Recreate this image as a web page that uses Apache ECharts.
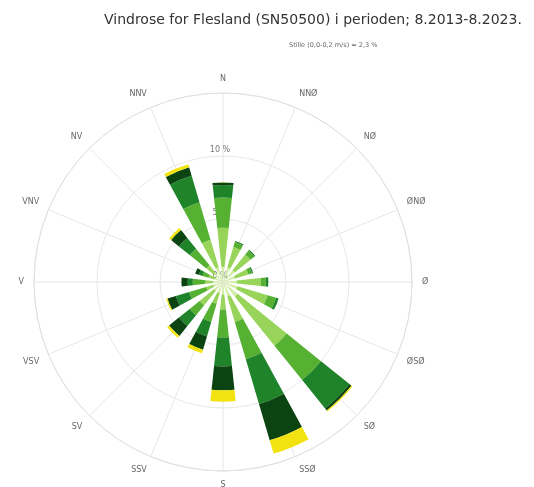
<!DOCTYPE html>
<html><head><meta charset="utf-8">
<script src="https://cdn.jsdelivr.net/npm/echarts@6/dist/echarts.min.js"></script>
<style>html,body{margin:0;padding:0;background:#fff}#c{width:534px;height:487px}</style>
</head><body><div id="c"></div>
<script>
// Directions, clockwise from north
const directions = ['N','NNØ','NØ','ØNØ','Ø','ØSØ','SØ','SSØ','S','SSV','SV','VSV','V','VNV','NV','NNV'];
// Wind speed classes (inner to outer)
const classNames = ['0,3-1,5 m/s','1,6-3,3 m/s','3,4-5,4 m/s','5,5-7,9 m/s','8,0-10,7 m/s','> 10,8 m/s'];
const classColors = ['#d2eda6','#98d35a','#56b132','#1f832a','#0b4411','#f2e20f'];
// Frequency (%) per direction for each class
const cls1 = [1.2,1.2,1.2,1.0,1.1,1.2,1.5,1.2,1.0,0.9,0.9,0.8,0.8,0.7,0.9,1.2];
const cls2 = [3.1,1.7,1.6,1.1,1.9,2.5,5.0,2.1,1.2,0.9,1.5,0.6,0.6,0.5,0.8,2.3];
const cls3 = [2.4,0.4,0.4,0.3,0.4,0.7,3.5,3.1,2.2,1.5,1.0,1.4,1.0,0.5,1.7,3.1];
const cls4 = [1.0,0.1,0.1,0.1,0.2,0.2,2.9,3.7,2.3,1.2,1.1,1.1,0.4,0.3,1.1,2.2];
const cls5 = [0.2,0,0,0,0,0,0.2,3.0,1.9,1.1,1.0,0.7,0.5,0.3,0.8,0.7];
const cls6 = [0,0,0,0,0,0,0.1,1.1,0.9,0.3,0.2,0.1,0,0,0.2,0.25];
const radiusMax = 15;
const radiusStep = 5;
const titleText = 'Vindrose for Flesland (SN50500) i perioden; 8.2013-8.2023.';
const subtitleText = 'Stille (0,0-0,2 m/s) = 2,3 %';

const classData = [cls1, cls2, cls3, cls4, cls5, cls6];
const chart = echarts.init(document.getElementById('c'));
const center = [223, 282];
const radius = 189;
const gridColor = '#e6e6e6';

const option = {
  animation: false,
  title: [
    { text: titleText, left: 99, top: 8,
      textStyle: { fontFamily: 'DejaVu Sans', fontSize: 14, fontWeight: 'normal', color: '#333' } },
    { text: subtitleText, left: 284, top: 37,
      textStyle: { fontFamily: 'DejaVu Sans', fontSize: 6.5, fontWeight: 'normal', color: '#666' } }
  ],
  polar: [
    { center: center, radius: radius },
    { center: center, radius: radius }
  ],
  angleAxis: [
    { polarIndex: 0, type: 'value', min: 0, max: 360, interval: 360 / directions.length,
      startAngle: 90, clockwise: true,
      axisLine: { show: true, lineStyle: { color: '#e0e0e0', width: 1 } },
      axisTick: { show: false },
      splitLine: { show: true, lineStyle: { color: gridColor, width: 1 } },
      axisLabel: { show: true, margin: 10, color: '#666', fontFamily: 'DejaVu Sans', fontSize: 8,
        formatter: v => directions[Math.round(v / (360 / directions.length)) % directions.length] }
    },
    { polarIndex: 1, type: 'category', data: directions,
      startAngle: 90 + 180 / directions.length, clockwise: true,
      axisLine: { show: false }, axisTick: { show: false }, axisLabel: { show: false },
      splitLine: { show: false } }
  ],
  radiusAxis: [
    { polarIndex: 0, type: 'value', min: 0, max: radiusMax, interval: radiusStep,
      axisLine: { show: false }, axisTick: { show: false },
      splitLine: { show: true, lineStyle: { color: gridColor, width: 1 } },
      axisLabel: { show: true, margin: 0, align: 'center', verticalAlign: 'bottom',
        padding: [0, 6, 2, 0], color: '#777', fontFamily: 'DejaVu Sans', fontSize: 8,
        formatter: v => v < radiusMax ? v + ' %' : '' } },
    { polarIndex: 1, type: 'value', min: 0, max: radiusMax,
      axisLine: { show: false }, axisTick: { show: false }, axisLabel: { show: false },
      splitLine: { show: false } }
  ],
  series: classData.map((d, i) => ({
    type: 'bar', coordinateSystem: 'polar', polarIndex: 1, stack: 'wind',
    name: classNames[i], data: d, barCategoryGap: '46%',
    itemStyle: { color: classColors[i] }
  }))
};
chart.setOption(option);
</script>
</body></html>
